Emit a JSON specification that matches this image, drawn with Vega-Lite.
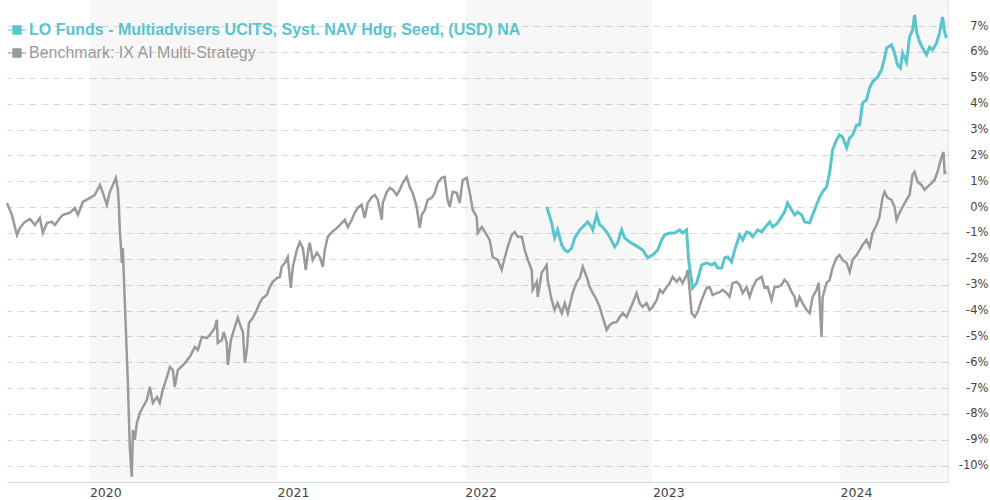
{
  "$schema": "https://vega.github.io/schema/vega-lite/v6.json",
  "width": 941,
  "height": 482,
  "autosize": {"type": "none"},
  "padding": {"left": 7, "top": 0, "right": 42, "bottom": 18},
  "background": "white",
  "config": {
    "view": {"stroke": null},
    "axisY": {
      "values": [-10,-9,-8,-7,-6,-5,-4,-3,-2,-1,0,1,2,3,4,5,6,7],
      "tickCount": 18,
      "labelOverlap": false, "labelBound": false, "labelFlush": false,
      "grid": true, "gridColor": "#d9d9d9", "gridDash": [7, 5], "gridWidth": 1,
      "ticks": false, "labelAlign": "right", "labelPadding": 40, "labelFont": "DejaVu Sans",
      "labelFontSize": 11.5, "labelColor": "#444444",
      "domainColor": "#e6e6e6", "domainWidth": 1
    }
  },
  "datasets": {
    "bands": [
      {"start": 2020, "end": 2021},
      {"start": 2022, "end": 2023},
      {"start": 2024, "end": 2024.575}
    ],
    "benchmark": [
      {"t":2019.561,"v":0.16},{"t":2019.587,"v":-0.30},{"t":2019.614,"v":-1.08},{"t":2019.630,"v":-0.80},{"t":2019.656,"v":-0.57},{"t":2019.683,"v":-0.46},{"t":2019.710,"v":-0.69},{"t":2019.736,"v":-0.42},{"t":2019.752,"v":-1.00},{"t":2019.774,"v":-0.61},{"t":2019.800,"v":-0.57},{"t":2019.816,"v":-0.69},{"t":2019.843,"v":-0.42},{"t":2019.859,"v":-0.30},{"t":2019.896,"v":-0.22},{"t":2019.923,"v":-0.03},{"t":2019.939,"v":-0.30},{"t":2019.965,"v":0.20},{"t":2020.003,"v":0.36},{"t":2020.029,"v":0.47},{"t":2020.056,"v":0.86},{"t":2020.072,"v":0.55},{"t":2020.093,"v":0.09},{"t":2020.109,"v":0.59},{"t":2020.125,"v":0.86},{"t":2020.141,"v":1.13},{"t":2020.152,"v":0.67},{"t":2020.157,"v":0.09},{"t":2020.162,"v":-0.88},{"t":2020.168,"v":-1.54},{"t":2020.173,"v":-2.16},{"t":2020.178,"v":-1.58},{"t":2020.189,"v":-3.70},{"t":2020.205,"v":-6.80},{"t":2020.216,"v":-9.39},{"t":2020.226,"v":-10.43},{"t":2020.232,"v":-8.62},{"t":2020.242,"v":-9.00},{"t":2020.253,"v":-8.35},{"t":2020.269,"v":-7.96},{"t":2020.285,"v":-7.73},{"t":2020.306,"v":-7.46},{"t":2020.322,"v":-6.95},{"t":2020.338,"v":-7.57},{"t":2020.360,"v":-7.34},{"t":2020.375,"v":-7.57},{"t":2020.391,"v":-7.07},{"t":2020.413,"v":-6.57},{"t":2020.429,"v":-6.18},{"t":2020.445,"v":-6.30},{"t":2020.455,"v":-6.95},{"t":2020.471,"v":-6.30},{"t":2020.509,"v":-6.03},{"t":2020.535,"v":-5.79},{"t":2020.562,"v":-5.41},{"t":2020.578,"v":-5.52},{"t":2020.599,"v":-5.02},{"t":2020.626,"v":-5.06},{"t":2020.642,"v":-4.94},{"t":2020.668,"v":-4.67},{"t":2020.679,"v":-4.36},{"t":2020.684,"v":-5.25},{"t":2020.706,"v":-5.14},{"t":2020.716,"v":-4.83},{"t":2020.732,"v":-5.25},{"t":2020.738,"v":-6.10},{"t":2020.754,"v":-5.14},{"t":2020.775,"v":-4.63},{"t":2020.791,"v":-4.28},{"t":2020.807,"v":-4.63},{"t":2020.818,"v":-4.83},{"t":2020.828,"v":-6.02},{"t":2020.839,"v":-5.52},{"t":2020.850,"v":-4.48},{"t":2020.871,"v":-4.28},{"t":2020.892,"v":-3.98},{"t":2020.908,"v":-3.70},{"t":2020.924,"v":-3.51},{"t":2020.945,"v":-3.40},{"t":2020.961,"v":-3.09},{"t":2020.977,"v":-2.89},{"t":2020.999,"v":-2.74},{"t":2021.015,"v":-2.70},{"t":2021.025,"v":-2.31},{"t":2021.041,"v":-2.16},{"t":2021.057,"v":-1.93},{"t":2021.073,"v":-3.12},{"t":2021.084,"v":-2.31},{"t":2021.105,"v":-1.66},{"t":2021.121,"v":-1.35},{"t":2021.137,"v":-1.58},{"t":2021.153,"v":-2.43},{"t":2021.164,"v":-1.77},{"t":2021.174,"v":-1.38},{"t":2021.190,"v":-2.04},{"t":2021.212,"v":-1.77},{"t":2021.228,"v":-1.93},{"t":2021.244,"v":-2.31},{"t":2021.254,"v":-1.66},{"t":2021.270,"v":-1.15},{"t":2021.292,"v":-0.96},{"t":2021.308,"v":-0.88},{"t":2021.324,"v":-0.77},{"t":2021.345,"v":-0.61},{"t":2021.361,"v":-0.49},{"t":2021.377,"v":-0.77},{"t":2021.398,"v":-0.49},{"t":2021.414,"v":-0.22},{"t":2021.430,"v":-0.03},{"t":2021.451,"v":0.09},{"t":2021.467,"v":-0.42},{"t":2021.483,"v":0.16},{"t":2021.505,"v":0.39},{"t":2021.521,"v":0.47},{"t":2021.537,"v":0.28},{"t":2021.558,"v":-0.49},{"t":2021.563,"v":0.16},{"t":2021.585,"v":0.59},{"t":2021.601,"v":0.74},{"t":2021.617,"v":0.67},{"t":2021.638,"v":0.47},{"t":2021.654,"v":0.67},{"t":2021.670,"v":0.94},{"t":2021.691,"v":1.17},{"t":2021.707,"v":0.78},{"t":2021.723,"v":0.55},{"t":2021.744,"v":0.01},{"t":2021.760,"v":-0.80},{"t":2021.771,"v":-0.30},{"t":2021.787,"v":-0.11},{"t":2021.803,"v":0.28},{"t":2021.824,"v":0.36},{"t":2021.840,"v":0.55},{"t":2021.856,"v":0.94},{"t":2021.877,"v":1.13},{"t":2021.893,"v":1.17},{"t":2021.909,"v":0.28},{"t":2021.920,"v":0.01},{"t":2021.936,"v":0.59},{"t":2021.957,"v":0.55},{"t":2021.973,"v":0.16},{"t":2021.989,"v":1.05},{"t":2022.011,"v":1.13},{"t":2022.027,"v":0.55},{"t":2022.043,"v":-0.11},{"t":2022.064,"v":-0.38},{"t":2022.069,"v":-1.00},{"t":2022.091,"v":-0.77},{"t":2022.107,"v":-0.96},{"t":2022.133,"v":-1.27},{"t":2022.149,"v":-1.93},{"t":2022.176,"v":-2.04},{"t":2022.197,"v":-2.43},{"t":2022.213,"v":-1.96},{"t":2022.229,"v":-1.54},{"t":2022.250,"v":-1.08},{"t":2022.266,"v":-0.96},{"t":2022.282,"v":-1.15},{"t":2022.304,"v":-1.15},{"t":2022.320,"v":-1.66},{"t":2022.336,"v":-2.04},{"t":2022.357,"v":-2.43},{"t":2022.362,"v":-3.20},{"t":2022.384,"v":-2.89},{"t":2022.389,"v":-3.47},{"t":2022.410,"v":-2.54},{"t":2022.437,"v":-2.24},{"t":2022.442,"v":-2.82},{"t":2022.463,"v":-3.59},{"t":2022.479,"v":-3.98},{"t":2022.495,"v":-3.71},{"t":2022.517,"v":-4.10},{"t":2022.533,"v":-3.71},{"t":2022.549,"v":-4.10},{"t":2022.575,"v":-3.32},{"t":2022.597,"v":-2.89},{"t":2022.613,"v":-2.74},{"t":2022.629,"v":-2.31},{"t":2022.650,"v":-2.70},{"t":2022.666,"v":-3.09},{"t":2022.682,"v":-3.32},{"t":2022.703,"v":-3.59},{"t":2022.719,"v":-3.86},{"t":2022.735,"v":-4.25},{"t":2022.756,"v":-4.75},{"t":2022.772,"v":-4.56},{"t":2022.788,"v":-4.48},{"t":2022.810,"v":-4.44},{"t":2022.826,"v":-4.25},{"t":2022.842,"v":-4.10},{"t":2022.863,"v":-4.25},{"t":2022.879,"v":-3.98},{"t":2022.895,"v":-3.71},{"t":2022.916,"v":-3.32},{"t":2022.932,"v":-3.71},{"t":2022.948,"v":-3.86},{"t":2022.969,"v":-3.71},{"t":2022.985,"v":-3.98},{"t":2023.001,"v":-3.86},{"t":2023.023,"v":-3.59},{"t":2023.039,"v":-3.20},{"t":2023.055,"v":-3.32},{"t":2023.076,"v":-3.09},{"t":2023.092,"v":-2.94},{"t":2023.108,"v":-2.70},{"t":2023.129,"v":-2.89},{"t":2023.145,"v":-2.74},{"t":2023.161,"v":-2.94},{"t":2023.182,"v":-2.62},{"t":2023.188,"v":-2.43},{"t":2023.198,"v":-3.20},{"t":2023.209,"v":-4.10},{"t":2023.225,"v":-4.25},{"t":2023.241,"v":-4.05},{"t":2023.262,"v":-3.59},{"t":2023.289,"v":-3.12},{"t":2023.305,"v":-3.09},{"t":2023.321,"v":-3.40},{"t":2023.342,"v":-3.33},{"t":2023.358,"v":-3.29},{"t":2023.374,"v":-3.20},{"t":2023.396,"v":-3.33},{"t":2023.411,"v":-3.47},{"t":2023.427,"v":-2.94},{"t":2023.449,"v":-2.89},{"t":2023.465,"v":-3.01},{"t":2023.481,"v":-3.32},{"t":2023.502,"v":-3.09},{"t":2023.518,"v":-3.47},{"t":2023.534,"v":-3.12},{"t":2023.555,"v":-2.81},{"t":2023.582,"v":-2.70},{"t":2023.598,"v":-3.12},{"t":2023.614,"v":-3.09},{"t":2023.635,"v":-3.59},{"t":2023.651,"v":-3.09},{"t":2023.667,"v":-3.09},{"t":2023.688,"v":-3.01},{"t":2023.704,"v":-2.81},{"t":2023.720,"v":-2.93},{"t":2023.742,"v":-3.29},{"t":2023.758,"v":-3.47},{"t":2023.768,"v":-3.86},{"t":2023.784,"v":-3.47},{"t":2023.800,"v":-3.71},{"t":2023.822,"v":-3.98},{"t":2023.838,"v":-4.10},{"t":2023.854,"v":-3.47},{"t":2023.875,"v":-3.20},{"t":2023.886,"v":-2.93},{"t":2023.901,"v":-5.02},{"t":2023.907,"v":-3.47},{"t":2023.928,"v":-2.93},{"t":2023.944,"v":-2.82},{"t":2023.960,"v":-2.35},{"t":2023.981,"v":-1.97},{"t":2023.997,"v":-1.85},{"t":2024.013,"v":-2.04},{"t":2024.035,"v":-2.16},{"t":2024.051,"v":-2.51},{"t":2024.067,"v":-2.04},{"t":2024.088,"v":-1.85},{"t":2024.104,"v":-1.66},{"t":2024.120,"v":-1.46},{"t":2024.141,"v":-1.27},{"t":2024.157,"v":-1.54},{"t":2024.173,"v":-1.00},{"t":2024.194,"v":-0.69},{"t":2024.210,"v":-0.38},{"t":2024.226,"v":0.36},{"t":2024.237,"v":0.59},{"t":2024.253,"v":0.36},{"t":2024.274,"v":0.28},{"t":2024.290,"v":0.01},{"t":2024.301,"v":-0.49},{"t":2024.317,"v":-0.22},{"t":2024.333,"v":0.01},{"t":2024.354,"v":0.28},{"t":2024.370,"v":0.47},{"t":2024.386,"v":1.25},{"t":2024.397,"v":1.36},{"t":2024.413,"v":0.97},{"t":2024.434,"v":0.86},{"t":2024.450,"v":0.67},{"t":2024.466,"v":0.78},{"t":2024.487,"v":0.93},{"t":2024.503,"v":1.05},{"t":2024.519,"v":1.36},{"t":2024.541,"v":1.94},{"t":2024.551,"v":2.13},{"t":2024.557,"v":1.32},{"t":2024.567,"v":1.36}
    ],
    "fund": [
      {"t":2022.437,"v":0.01},{"t":2022.463,"v":-0.61},{"t":2022.479,"v":-1.19},{"t":2022.495,"v":-0.88},{"t":2022.517,"v":-1.46},{"t":2022.533,"v":-1.66},{"t":2022.549,"v":-1.73},{"t":2022.570,"v":-1.58},{"t":2022.586,"v":-1.19},{"t":2022.613,"v":-0.88},{"t":2022.639,"v":-0.69},{"t":2022.655,"v":-0.57},{"t":2022.676,"v":-0.77},{"t":2022.682,"v":-0.88},{"t":2022.703,"v":-0.30},{"t":2022.719,"v":-0.69},{"t":2022.735,"v":-0.77},{"t":2022.756,"v":-0.96},{"t":2022.772,"v":-1.15},{"t":2022.799,"v":-1.54},{"t":2022.815,"v":-1.38},{"t":2022.836,"v":-0.88},{"t":2022.852,"v":-1.19},{"t":2022.879,"v":-1.35},{"t":2022.905,"v":-1.46},{"t":2022.932,"v":-1.58},{"t":2022.948,"v":-1.66},{"t":2022.975,"v":-1.96},{"t":2023.001,"v":-1.85},{"t":2023.028,"v":-1.66},{"t":2023.049,"v":-1.27},{"t":2023.065,"v":-1.07},{"t":2023.092,"v":-1.00},{"t":2023.119,"v":-1.00},{"t":2023.145,"v":-0.88},{"t":2023.161,"v":-1.00},{"t":2023.182,"v":-0.88},{"t":2023.193,"v":-2.04},{"t":2023.214,"v":-3.13},{"t":2023.236,"v":-2.93},{"t":2023.262,"v":-2.24},{"t":2023.289,"v":-2.16},{"t":2023.316,"v":-2.24},{"t":2023.332,"v":-2.16},{"t":2023.348,"v":-2.35},{"t":2023.369,"v":-2.35},{"t":2023.385,"v":-1.96},{"t":2023.401,"v":-1.93},{"t":2023.422,"v":-2.12},{"t":2023.438,"v":-1.66},{"t":2023.465,"v":-1.08},{"t":2023.481,"v":-1.27},{"t":2023.502,"v":-0.96},{"t":2023.518,"v":-1.00},{"t":2023.534,"v":-1.15},{"t":2023.561,"v":-0.88},{"t":2023.582,"v":-0.96},{"t":2023.598,"v":-0.80},{"t":2023.625,"v":-0.57},{"t":2023.641,"v":-0.77},{"t":2023.667,"v":-0.61},{"t":2023.688,"v":-0.38},{"t":2023.704,"v":-0.19},{"t":2023.720,"v":0.16},{"t":2023.742,"v":-0.11},{"t":2023.758,"v":-0.30},{"t":2023.774,"v":-0.19},{"t":2023.795,"v":-0.30},{"t":2023.811,"v":-0.57},{"t":2023.838,"v":-0.61},{"t":2023.854,"v":-0.30},{"t":2023.875,"v":0.09},{"t":2023.891,"v":0.39},{"t":2023.907,"v":0.59},{"t":2023.928,"v":0.78},{"t":2023.944,"v":1.32},{"t":2023.960,"v":2.21},{"t":2023.981,"v":2.60},{"t":2023.997,"v":2.79},{"t":2024.013,"v":2.71},{"t":2024.035,"v":2.29},{"t":2024.051,"v":2.68},{"t":2024.067,"v":2.79},{"t":2024.088,"v":3.18},{"t":2024.104,"v":3.18},{"t":2024.120,"v":4.03},{"t":2024.141,"v":4.15},{"t":2024.157,"v":4.61},{"t":2024.173,"v":4.84},{"t":2024.200,"v":5.03},{"t":2024.221,"v":5.31},{"t":2024.237,"v":5.77},{"t":2024.248,"v":6.16},{"t":2024.274,"v":6.27},{"t":2024.290,"v":5.96},{"t":2024.306,"v":5.50},{"t":2024.322,"v":5.38},{"t":2024.333,"v":5.96},{"t":2024.354,"v":5.61},{"t":2024.370,"v":6.58},{"t":2024.386,"v":6.85},{"t":2024.397,"v":7.43},{"t":2024.408,"v":6.77},{"t":2024.424,"v":6.39},{"t":2024.439,"v":6.16},{"t":2024.461,"v":5.89},{"t":2024.477,"v":6.19},{"t":2024.493,"v":6.08},{"t":2024.514,"v":6.35},{"t":2024.530,"v":6.74},{"t":2024.546,"v":7.35},{"t":2024.557,"v":6.77},{"t":2024.567,"v":6.54}
    ]
  },
  "layer": [
    {
      "data": {"name": "bands"},
      "mark": {"type": "rect", "color": "#000000", "opacity": 0.03},
      "encoding": {
        "x": {
          "field": "start", "type": "quantitative",
          "scale": {"domain": [2019.561, 2024.575], "nice": false, "zero": false},
          "axis": {
            "values": [2020, 2021, 2022, 2023, 2024],
            "format": "d", "title": null, "grid": false, "ticks": false,
            "labelAlign": "left", "labelFont": "DejaVu Sans", "labelFontSize": 12.5,
            "labelColor": "#444444", "labelPadding": 4, "labelFlush": false, "labelOverlap": false,
            "domainColor": "#d8d8d8", "domainWidth": 1
          }
        },
        "x2": {"field": "end"}
      }
    },
    {
      "data": {"name": "benchmark"},
      "mark": {"type": "line", "strokeWidth": 2.5, "interpolate": "linear"},
      "encoding": {
        "x": {"field": "t", "type": "quantitative"},
        "y": {
          "field": "v", "type": "quantitative",
          "scale": {"domain": [-10.63, 8.01], "nice": false, "zero": false},
          "axis": {
            "orient": "right", "title": null,
            "values": [-10,-9,-8,-7,-6,-5,-4,-3,-2,-1,0,1,2,3,4,5,6,7],
            "labelExpr": "datum.value + '%'"
          }
        },
        "color": {
          "datum": "benchmark", "type": "nominal",
          "scale": {"domain": ["fund", "benchmark"], "range": ["#59c5cd", "#9a9a9a"]},
          "legend": {
            "orient": "none", "legendX": 0, "legendY": 20, "title": null, "padding": 0,
            "symbolType": "M-1,0H1M-0.45,-0.45H0.45V0.45H-0.45Z", "symbolSize": 324,
            "symbolStrokeWidth": 1.2, "labelFont": "Liberation Sans", "labelFontSize": 16,
            "labelOffset": 2, "rowPadding": 5, "labelLimit": 800,
            "labelExpr": "datum.value == 'fund' ? 'LO Funds - Multiadvisers UCITS, Syst. NAV Hdg, Seed, (USD) NA' : 'Benchmark: IX AI Multi-Strategy'",
            "encode": {
              "symbols": {"update": {"fill": {"scale": "color", "field": "value"}, "stroke": {"scale": "color", "field": "value"}}},
              "labels": {"update": {"fill": {"scale": "color", "field": "value"}, "fontWeight": {"signal": "datum.value == 'fund' ? 'bold' : 'normal'"}}}
            }
          }
        }
      }
    },
    {
      "data": {"name": "fund"},
      "mark": {"type": "line", "strokeWidth": 3, "interpolate": "linear"},
      "encoding": {
        "x": {"field": "t", "type": "quantitative"},
        "y": {
          "field": "v", "type": "quantitative",
          "axis": {
            "orient": "right", "title": null,
            "values": [-10,-9,-8,-7,-6,-5,-4,-3,-2,-1,0,1,2,3,4,5,6,7],
            "labelExpr": "datum.value + '%'"
          }
        },
        "color": {"datum": "fund", "type": "nominal"}
      }
    }
  ]
}
